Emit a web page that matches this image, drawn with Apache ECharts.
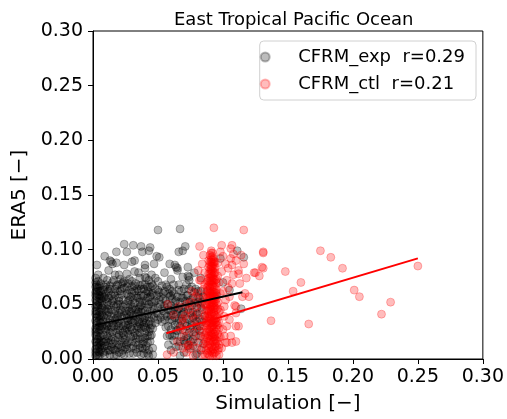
<!DOCTYPE html>
<html>
<head>
<meta charset="utf-8">
<script src="https://cdn.jsdelivr.net/npm/echarts@6/dist/echarts.min.js"></script>
<style>
  html, body { margin: 0; padding: 0; background: #fff; }
  #chart { width: 507px; height: 419px; }
</style>
</head>
<body>
<div id="chart"></div>
<script>
// Scatter of simulated vs. reanalysis values, with linear fits per experiment.
const chartTitle = 'East Tropical Pacific Ocean';
const xAxisTitle = 'Simulation [−]';
const yAxisTitle = 'ERA5 [−]';
const expName = 'CFRM_exp  r=0.29';
const ctlName = 'CFRM_ctl  r=0.21';
const axisTicks = [0.00, 0.05, 0.10, 0.15, 0.20, 0.25, 0.30];

// CFRM_exp samples [simulation, ERA5]
const expPoints = [
  // narrow band near zero simulation
  [0.003,0.004],[0.002,0.009],[0.004,0.013],[0.003,0.018],[0.002,0.022],[0.005,0.026],[0.003,0.031],
  [0.002,0.035],[0.004,0.039],[0.003,0.044],[0.002,0.048],[0.004,0.052],[0.003,0.057],[0.002,0.061],
  [0.004,0.065],[0.005,0.006],[0.006,0.016],[0.005,0.036],[0.006,0.046],[0.005,0.058],[0.003,0.068],
  [0.002,0.074],[0.004,0.071],[0.003,0.086],[0.002,0.028],[0.005,0.003],[0.006,0.021],[0.002,0.041],
  [0.006,0.033],[0.002,0.054],[0.006,0.062],[0.003,0.012],[0.004,0.024],[0.003,0.049],[0.005,0.011],
  [0.004,0.034],[0.002,0.016],[0.005,0.043],[0.004,0.059],[0.002,0.003],[0.006,0.055],[0.003,0.038],
  [0.005,0.067],[0.002,0.066],
  [0.004,0.007],[0.003,0.021],[0.005,0.030],[0.003,0.041],[0.004,0.047],[0.005,0.051],[0.003,0.062],
  [0.004,0.018],[0.005,0.062],[0.003,0.027],
  [0.002,0.006],[0.004,0.010],[0.003,0.015],[0.005,0.020],[0.002,0.025],[0.004,0.029],[0.003,0.033],
  [0.005,0.040],[0.002,0.044],[0.004,0.049],[0.003,0.053],[0.005,0.055],[0.002,0.058],[0.004,0.062],
  [0.003,0.066],[0.002,0.070],[0.004,0.077],[0.005,0.015],[0.004,0.003],[0.006,0.038],
  // bottom
  [0.009,0.004],[0.013,0.008],[0.016,0.003],[0.019,0.010],[0.022,0.005],[0.025,0.011],[0.037,0.004],
  [0.040,0.009],[0.043,0.003],[0.046,0.010],[0.064,0.011],[0.070,0.006],[0.075,0.010],[0.079,0.004],
  [0.083,0.008],[0.011,0.012],[0.031,0.012],
  // 0.012 - 0.030
  [0.008,0.015],[0.012,0.019],[0.015,0.014],[0.018,0.024],[0.021,0.017],[0.024,0.022],[0.027,0.015],
  [0.030,0.027],[0.033,0.019],[0.036,0.024],[0.039,0.016],[0.042,0.021],[0.044,0.028],[0.010,0.026],
  [0.014,0.029],[0.020,0.030],[0.026,0.028],[0.034,0.030],[0.040,0.029],[0.056,0.029],[0.059,0.022],
  [0.062,0.017],[0.065,0.026],[0.068,0.020],[0.071,0.014],[0.074,0.024],[0.077,0.018],[0.080,0.028],
  [0.083,0.021],[0.058,0.013],[0.066,0.012],
  // 0.030 - 0.050
  [0.008,0.034],[0.011,0.040],[0.014,0.045],[0.017,0.036],[0.020,0.042],[0.023,0.048],[0.026,0.037],
  [0.029,0.043],[0.032,0.035],[0.035,0.046],[0.038,0.039],[0.041,0.033],[0.044,0.044],[0.047,0.038],
  [0.050,0.047],[0.053,0.034],[0.056,0.041],[0.059,0.036],[0.062,0.045],[0.065,0.033],[0.068,0.040],
  [0.071,0.048],[0.074,0.036],[0.077,0.043],[0.080,0.034],[0.083,0.047],[0.086,0.039],[0.012,0.049],
  [0.018,0.031],[0.027,0.031],[0.036,0.032],[0.045,0.031],[0.050,0.036],[0.060,0.049],[0.066,0.046],
  // 0.050 - 0.070
  [0.007,0.053],[0.010,0.060],[0.013,0.067],[0.016,0.055],[0.019,0.062],[0.022,0.069],[0.027,0.053],
  [0.030,0.066],[0.033,0.058],[0.036,0.052],[0.039,0.064],[0.042,0.056],[0.045,0.069],[0.048,0.053],
  [0.051,0.061],[0.054,0.055],[0.057,0.066],[0.060,0.058],[0.063,0.052],[0.066,0.063],[0.069,0.056],
  [0.072,0.068],[0.075,0.054],[0.078,0.061],[0.081,0.052],[0.085,0.057],
  // dense lower-left block
  [0.007,0.010],[0.010,0.007],[0.012,0.015],[0.015,0.020],[0.017,0.008],[0.020,0.013],[0.023,0.019],
  [0.026,0.009],[0.029,0.020],[0.032,0.024],[0.035,0.013],[0.038,0.020],[0.041,0.012],[0.043,0.025],
  [0.008,0.022],[0.011,0.030],[0.013,0.036],[0.016,0.041],[0.019,0.033],[0.022,0.038],[0.025,0.044],
  [0.028,0.039],[0.031,0.047],[0.034,0.041],[0.037,0.049],[0.040,0.044],[0.043,0.038],[0.009,0.045],
  [0.011,0.052],[0.014,0.058],[0.017,0.064],[0.020,0.056],[0.022,0.064],[0.027,0.058],[0.028,0.063],
  [0.031,0.054],[0.034,0.064],[0.037,0.058],[0.040,0.051],[0.043,0.061],[0.008,0.063],[0.010,0.068],
  [0.015,0.070],[0.018,0.048],[0.021,0.050],[0.024,0.033],[0.029,0.050],[0.033,0.069],[0.038,0.068],
  [0.042,0.066],[0.045,0.052],[0.046,0.060],[0.007,0.040],[0.009,0.057],[0.013,0.024],[0.019,0.027],
  [0.025,0.026],[0.030,0.034],[0.036,0.037],[0.039,0.031],[0.044,0.016],
  [0.006,0.008],[0.009,0.018],[0.012,0.027],[0.014,0.011],[0.017,0.017],[0.018,0.004],[0.020,0.022],
  [0.023,0.008],[0.024,0.015],[0.027,0.023],[0.028,0.005],[0.030,0.016],[0.033,0.009],[0.034,0.027],
  [0.036,0.018],[0.038,0.010],[0.040,0.024],[0.042,0.005],[0.045,0.022],[0.007,0.030],[0.010,0.037],
  [0.012,0.043],[0.015,0.033],[0.016,0.049],[0.019,0.040],[0.021,0.045],[0.023,0.030],[0.026,0.041],
  [0.027,0.047],[0.029,0.036],[0.031,0.040],[0.033,0.045],[0.035,0.034],[0.037,0.043],[0.039,0.036],
  [0.042,0.047],[0.044,0.035],[0.008,0.049],[0.010,0.055],[0.012,0.062],[0.014,0.051],[0.016,0.060],
  [0.018,0.067],[0.020,0.053],[0.022,0.059],[0.026,0.066],[0.029,0.057],[0.032,0.062],[0.035,0.056],
  [0.036,0.067],[0.038,0.053],[0.041,0.060],[0.044,0.057],[0.046,0.067],[0.011,0.072],[0.017,0.077],
  [0.021,0.073],[0.026,0.078],[0.030,0.071],[0.035,0.079],[0.043,0.072],[0.048,0.074],
  [0.006,0.013],[0.008,0.006],[0.009,0.028],[0.010,0.016],[0.011,0.021],[0.011,0.046],[0.012,0.033],
  [0.012,0.056],[0.013,0.004],[0.013,0.064],[0.014,0.017],[0.014,0.039],[0.015,0.025],[0.015,0.053],
  [0.016,0.009],[0.016,0.030],[0.017,0.044],[0.017,0.058],[0.018,0.013],[0.018,0.037],[0.019,0.020],
  [0.019,0.050],[0.019,0.068],[0.020,0.006],[0.020,0.035],[0.021,0.026],[0.021,0.062],[0.022,0.011],
  [0.022,0.043],[0.023,0.024],[0.023,0.054],[0.024,0.004],[0.024,0.040],[0.024,0.065],[0.025,0.018],
  [0.025,0.031],[0.025,0.050],[0.026,0.013],[0.026,0.060],[0.027,0.035],[0.027,0.069],[0.028,0.026],
  [0.028,0.044],[0.028,0.054],[0.029,0.010],[0.029,0.029],[0.030,0.046],[0.030,0.061],[0.031,0.005],
  [0.031,0.021],[0.031,0.033],[0.032,0.051],[0.032,0.067],[0.033,0.015],[0.033,0.039],[0.034,0.006],
  [0.034,0.022],[0.034,0.056],[0.035,0.029],[0.035,0.043],[0.035,0.062],[0.036,0.010],[0.036,0.048],
  [0.037,0.028],[0.037,0.064],[0.038,0.014],[0.038,0.034],[0.038,0.045],[0.039,0.005],[0.039,0.058],
  [0.040,0.019],[0.040,0.038],[0.040,0.068],[0.041,0.028],[0.041,0.053],[0.042,0.015],[0.042,0.041],
  [0.042,0.062],[0.043,0.008],[0.043,0.032],[0.043,0.050],[0.044,0.021],[0.044,0.066],[0.045,0.040],
  [0.045,0.059],[0.046,0.004],[0.046,0.028],[0.046,0.048],[0.007,0.047],[0.007,0.058],[0.008,0.039],
  [0.009,0.012],[0.009,0.066],[0.010,0.044],[0.006,0.027],[0.006,0.069],[0.008,0.056],[0.010,0.031],
  [0.011,0.064],[0.012,0.008],
  // middle block
  [0.047,0.045],[0.049,0.058],[0.052,0.050],[0.055,0.062],[0.058,0.045],[0.061,0.055],[0.064,0.041],
  [0.067,0.052],[0.070,0.043],[0.073,0.058],[0.076,0.049],[0.079,0.040],[0.082,0.055],[0.084,0.045],
  [0.053,0.067],[0.062,0.068],[0.068,0.035],[0.072,0.030],[0.076,0.031],[0.063,0.031],[0.057,0.039],
  [0.054,0.044],
  [0.048,0.064],[0.050,0.041],[0.052,0.057],[0.055,0.048],[0.056,0.053],[0.058,0.060],[0.060,0.040],
  [0.061,0.062],[0.063,0.047],[0.065,0.057],[0.066,0.037],[0.068,0.062],[0.069,0.047],[0.071,0.053],
  [0.072,0.037],[0.074,0.064],[0.075,0.042],[0.077,0.056],[0.078,0.033],[0.080,0.047],[0.081,0.062],
  [0.082,0.037],[0.084,0.052],
  [0.047,0.052],[0.048,0.033],[0.049,0.042],[0.050,0.063],[0.051,0.054],[0.052,0.038],[0.053,0.046],
  [0.054,0.060],[0.055,0.036],[0.056,0.068],[0.057,0.050],[0.058,0.030],[0.059,0.057],[0.060,0.044],
  [0.061,0.035],[0.062,0.060],[0.063,0.038],[0.064,0.053],[0.065,0.045],[0.066,0.068],[0.067,0.030],
  [0.068,0.056],[0.069,0.041],[0.070,0.064],[0.071,0.033],[0.072,0.058],[0.073,0.045],[0.074,0.052],
  [0.075,0.028],[0.076,0.066],[0.077,0.038],[0.078,0.051],[0.079,0.064],[0.080,0.041],[0.081,0.057],
  [0.082,0.026],[0.083,0.062],[0.084,0.034],
  [0.057,0.021],[0.060,0.027],[0.063,0.022],[0.067,0.016],[0.069,0.027],[0.072,0.021],[0.075,0.016],
  [0.078,0.025],[0.081,0.015],[0.082,0.030],[0.060,0.008],[0.067,0.003],[0.073,0.012],[0.080,0.005],
  [0.085,0.014],[0.061,0.021],[0.064,0.026],[0.070,0.017],[0.073,0.019],[0.077,0.012],[0.079,0.021],
  // 0.070 - 0.090
  [0.008,0.074],[0.012,0.081],[0.016,0.072],[0.020,0.077],[0.024,0.086],[0.028,0.073],[0.032,0.080],
  [0.036,0.074],[0.040,0.083],[0.045,0.077],[0.050,0.071],[0.055,0.079],[0.060,0.073],[0.065,0.081],
  [0.069,0.075],[0.074,0.072],[0.078,0.079],[0.083,0.074],[0.018,0.088],[0.030,0.089],[0.047,0.087],
  [0.059,0.087],[0.063,0.086],[0.073,0.084],[0.013,0.090],[0.032,0.090],[0.040,0.086],
  [0.014,0.089],[0.015,0.087],[0.023,0.070],[0.024,0.071],[0.040,0.075],[0.041,0.074],[0.074,0.075],
  [0.073,0.076],[0.059,0.064],[0.064,0.084],[0.065,0.083],
  // upper scatter
  [0.018,0.098],[0.024,0.105],[0.026,0.098],[0.031,0.104],[0.037,0.103],[0.038,0.098],[0.043,0.099],
  [0.044,0.102],[0.050,0.118],[0.051,0.093],[0.066,0.098],[0.067,0.119],[0.069,0.099],[0.071,0.103],
  [0.098,0.092],[0.111,0.099],[0.116,0.093],[0.009,0.094],[0.049,0.094],
  // right edge
  [0.105,0.063],[0.114,0.046],[0.095,0.058],[0.100,0.070],[0.088,0.062]
];

// CFRM_ctl samples [simulation, ERA5]
const ctlPoints = [
  // tight column around 0.09
  [0.089,0.004],[0.091,0.008],[0.093,0.005],[0.090,0.013],[0.092,0.016],[0.094,0.011],[0.088,0.019],
  [0.091,0.022],[0.093,0.020],[0.095,0.017],[0.089,0.027],[0.092,0.029],[0.094,0.025],[0.090,0.033],
  [0.093,0.035],[0.095,0.031],[0.088,0.039],[0.091,0.041],[0.094,0.040],[0.090,0.046],[0.092,0.048],
  [0.095,0.045],[0.089,0.053],[0.091,0.055],[0.093,0.051],[0.094,0.057],[0.090,0.060],[0.092,0.062],
  [0.095,0.063],[0.089,0.067],[0.091,0.069],[0.093,0.066],[0.090,0.074],[0.092,0.076],[0.094,0.072],
  [0.091,0.081],[0.093,0.079],[0.090,0.086],[0.092,0.088],[0.091,0.093],[0.092,0.097],[0.087,0.008],
  [0.096,0.008],[0.087,0.024],[0.096,0.023],[0.087,0.044],[0.096,0.038],[0.087,0.058],[0.096,0.052],
  [0.088,0.071],[0.095,0.069],[0.089,0.078],[0.094,0.084],[0.088,0.031],[0.097,0.004],[0.086,0.014],
  [0.086,0.050],[0.097,0.028],[0.093,0.092],[0.090,0.095],
  [0.092,0.003],[0.089,0.010],[0.094,0.014],[0.091,0.018],[0.090,0.025],[0.093,0.027],[0.092,0.034],
  [0.089,0.037],[0.091,0.043],[0.093,0.046],[0.090,0.050],[0.092,0.054],[0.091,0.059],[0.093,0.061],
  [0.090,0.064],[0.092,0.071],[0.091,0.075],[0.093,0.083],[0.092,0.085],[0.091,0.089],
  [0.090,0.007],[0.094,0.006],[0.088,0.012],[0.092,0.010],[0.095,0.012],[0.089,0.016],[0.093,0.016],
  [0.090,0.021],[0.094,0.021],[0.088,0.025],[0.092,0.024],[0.095,0.027],[0.091,0.029],[0.089,0.032],
  [0.094,0.033],[0.091,0.036],[0.095,0.038],[0.090,0.040],[0.093,0.041],[0.089,0.044],[0.094,0.047],
  [0.091,0.048],[0.088,0.050],[0.093,0.054],[0.095,0.055],[0.089,0.058],[0.092,0.059],[0.094,0.061],
  [0.088,0.063],[0.092,0.066],[0.090,0.070],[0.093,0.073],[0.089,0.074],[0.091,0.078],[0.093,0.087],
  [0.090,0.082],[0.092,0.080],[0.091,0.085],[0.092,0.091],[0.091,0.097],
  [0.090,0.003],[0.092,0.006],[0.091,0.011],[0.093,0.009],[0.090,0.017],[0.092,0.020],[0.091,0.024],
  [0.093,0.023],[0.090,0.028],[0.092,0.031],[0.091,0.033],[0.093,0.031],[0.090,0.037],[0.092,0.039],
  [0.091,0.045],[0.093,0.043],[0.090,0.048],[0.092,0.051],[0.091,0.052],[0.093,0.049],[0.090,0.056],
  [0.092,0.057],[0.091,0.062],[0.093,0.058],[0.090,0.066],[0.092,0.068],[0.091,0.072],[0.093,0.070],
  [0.090,0.078],[0.092,0.074],[0.091,0.083],[0.093,0.077],[0.090,0.089],[0.092,0.082],[0.091,0.091],
  [0.093,0.089],[0.092,0.094],[0.091,0.099],[0.089,0.021],[0.094,0.018],[0.089,0.041],[0.094,0.036],
  [0.089,0.061],[0.094,0.053],[0.089,0.071],[0.094,0.066],[0.089,0.084],[0.094,0.079],[0.088,0.005],
  [0.095,0.003],[0.088,0.045],[0.095,0.050],[0.088,0.056],[0.095,0.060],[0.088,0.035],[0.095,0.034],
  [0.088,0.066],[0.095,0.073],[0.089,0.090],[0.094,0.089],
  [0.086,0.004],[0.087,0.016],[0.086,0.022],[0.087,0.033],[0.086,0.040],[0.087,0.049],[0.096,0.016],
  [0.097,0.010],[0.096,0.031],[0.097,0.043],[0.096,0.046],[0.097,0.020],
  // spread around the column
  [0.0575,0.050],[0.057,0.004],[0.082,0.103],[0.093,0.120],[0.116,0.118],[0.099,0.104],[0.106,0.101],
  [0.131,0.098],[0.124,0.079],[0.130,0.084],[0.103,0.015],[0.110,0.016],[0.073,0.013],[0.115,0.057],
  [0.107,0.069],[0.102,0.087],[0.110,0.090],[0.112,0.078],[0.079,0.057],[0.074,0.045],[0.069,0.033],
  [0.077,0.024],[0.082,0.072],[0.084,0.087],[0.081,0.081],[0.083,0.072],[0.107,0.086],[0.112,0.081],
  [0.103,0.072],[0.113,0.069],[0.105,0.057],[0.110,0.048],[0.112,0.030],[0.107,0.015],[0.109,0.049],
  [0.110,0.042],[0.103,0.030],[0.101,0.021],[0.082,0.021],[0.074,0.009],[0.069,0.037],[0.070,0.021],
  [0.074,0.013],[0.069,0.010],[0.077,0.003],[0.072,0.006],[0.080,0.060],[0.079,0.048],[0.078,0.036],
  [0.102,0.054],[0.105,0.036],[0.102,0.015],[0.106,0.021],[0.110,0.030],[0.107,0.104],[0.108,0.096],
  [0.116,0.087],[0.117,0.060],[0.085,0.095],[0.098,0.098],[0.100,0.094],[0.086,0.079],[0.099,0.080],
  [0.100,0.062],[0.098,0.045],[0.099,0.010],[0.084,0.004],[0.083,0.030],[0.085,0.064],[0.101,0.039],
  [0.104,0.065],[0.108,0.077],[0.118,0.074],
  [0.065,0.016],[0.067,0.028],[0.071,0.040],[0.075,0.052],[0.078,0.016],[0.080,0.010],[0.081,0.042],
  [0.084,0.025],[0.076,0.062],[0.072,0.050],[0.083,0.050],[0.085,0.036],[0.062,0.006],
  [0.097,0.013],[0.098,0.020],[0.097,0.033],[0.098,0.060],[0.097,0.070],[0.096,0.076],[0.096,0.088],
  [0.086,0.068],[0.085,0.055],[0.086,0.030],[0.085,0.018],[0.084,0.010],[0.100,0.027],[0.101,0.048],
  [0.104,0.083],[0.106,0.092],[0.114,0.095],[0.066,0.048],[0.071,0.026],[0.076,0.040],[0.079,0.030],
  [0.062,0.040],
  // high simulation tail
  [0.131,0.097],[0.125,0.079],[0.128,0.076],[0.131,0.083],[0.120,0.057],[0.148,0.080],[0.154,0.062],
  [0.160,0.070],[0.137,0.035],[0.166,0.032],[0.175,0.099],[0.183,0.093],[0.192,0.083],[0.201,0.063],
  [0.205,0.057],[0.229,0.052],[0.222,0.041],[0.250,0.085]
];

// Least-squares fit lines, drawn across each sample's simulation range
const expFitX = [0.002, 0.115];
const expFitY = [0.031, 0.061];
const ctlFitX = [0.0565, 0.250];
const ctlFitY = [0.0235, 0.092];

const FONT = 'DejaVu Sans';
const chart = echarts.init(document.getElementById('chart'), null, { renderer: 'canvas' });

function pairs(xs, ys) { return xs.map((x, i) => [x, ys[i]]); }

function axisCommon(name, gap, labelMargin) {
  return {
    type: 'value',
    min: axisTicks[0],
    max: axisTicks[axisTicks.length - 1],
    interval: axisTicks[1] - axisTicks[0],
    name: name,
    nameLocation: 'middle',
    nameGap: gap,
    nameTextStyle: { fontSize: 20, color: '#000', fontFamily: FONT },
    axisLine: { show: true, onZero: false, lineStyle: { color: '#000', width: 1 } },
    axisTick: { show: true, inside: false, length: 5, lineStyle: { color: '#000', width: 1 } },
    axisLabel: { fontSize: 19, color: '#000', fontFamily: FONT, margin: labelMargin,
                 formatter: v => v.toFixed(2) },
    splitLine: { show: false }
  };
}

const option = {
  animation: false,
  backgroundColor: '#fff',
  title: {
    text: chartTitle,
    left: 169,
    top: 6,
    textStyle: { fontSize: 18, fontWeight: 'normal', color: '#000', fontFamily: FONT }
  },
  grid: {
    left: 93, right: 21, top: 31, bottom: 56,
    show: true, borderColor: '#000', borderWidth: 1, backgroundColor: 'transparent'
  },
  legend: {
    data: [expName, ctlName],
    orient: 'vertical',
    right: 31,
    top: 41,
    icon: 'circle',
    itemWidth: 50,
    itemHeight: 9,
    itemGap: 9,
    padding: [7, 11, 7, 0],
    backgroundColor: '#fff',
    borderColor: '#d0d0d0',
    borderWidth: 1,
    borderRadius: 4,
    textStyle: { fontSize: 18, color: '#000', fontFamily: FONT, padding: [0, 0, 0, 3] }
  },
  xAxis: axisCommon(xAxisTitle, 35, 9),
  yAxis: axisCommon(yAxisTitle, 57, 10),
  series: [
    {
      name: expName, type: 'scatter', data: expPoints, symbolSize: 8,
      itemStyle: { color: 'rgba(0,0,0,0.33)', borderColor: 'rgba(0,0,0,0.33)', borderWidth: 1 },
      z: 2
    },
    {
      name: ctlName, type: 'scatter', data: ctlPoints, symbolSize: 8,
      itemStyle: { color: 'rgba(255,0,0,0.33)', borderColor: 'rgba(255,0,0,0.33)', borderWidth: 1 },
      z: 3
    },
    {
      name: 'exp fit', type: 'line', data: pairs(expFitX, expFitY), symbol: 'none',
      lineStyle: { color: '#000', width: 2 }, z: 4, silent: true
    },
    {
      name: 'ctl fit', type: 'line', data: pairs(ctlFitX, ctlFitY), symbol: 'none',
      lineStyle: { color: '#ff0000', width: 2 }, z: 5, silent: true
    }
  ]
};

chart.setOption(option);
</script>
</body>
</html>
